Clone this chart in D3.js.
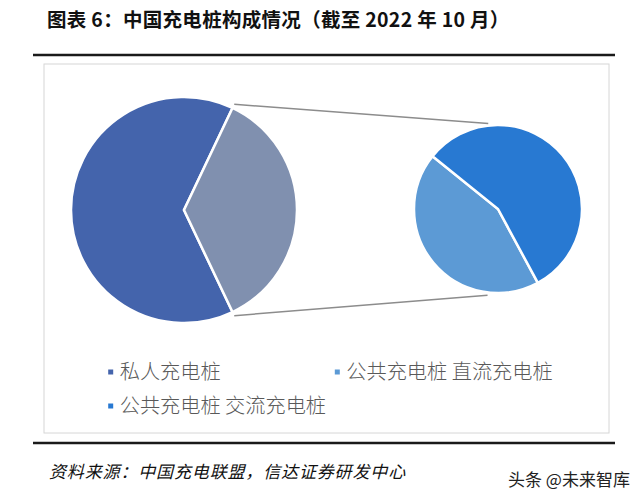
<!DOCTYPE html>
<html><head><meta charset="utf-8">
<script src="https://cdn.jsdelivr.net/npm/d3@7"></script>
<style>body{margin:0;background:#fff;}svg{display:block;}</style>
</head><body>
<svg id="c" width="640" height="500"></svg>
<script>
// Data (万台), 截至2022年10月
const mainCategories = ["私人充电桩", "公共充电桩"];
const mainValues = [303.0, 169.5];
const subCategories = ["公共充电桩 直流充电桩", "公共充电桩 交流充电桩"];
const subValues = [74.0, 95.5];
const legendLabels = ["私人充电桩", "公共充电桩 直流充电桩", "公共充电桩 交流充电桩"];
const titleText = "图表 6：中国充电桩构成情况（截至 2022 年 10 月）";
const sourceText = "资料来源：中国充电联盟，信达证券研发中心";
const watermarkText = "头条 @未来智库";

const colors = {
  "私人充电桩": "#4464AC",
  "公共充电桩": "#8090AF",
  "公共充电桩 直流充电桩": "#5C9AD5",
  "公共充电桩 交流充电桩": "#2879D2"
};

const svg = d3.select("#c");
const fontCJK = "'Noto Sans CJK SC','Noto Sans',sans-serif";

// Title
svg.append("text").attr("x", 47).attr("y", 27)
  .attr("font-family", fontCJK).attr("font-weight", 700).attr("font-size", 19.5)
  .attr("letter-spacing", 0.3)
  .attr("fill", "#111").text(titleText);

// rule lines
svg.append("line").attr("x1", 33).attr("x2", 615).attr("y1", 55).attr("y2", 55)
  .attr("stroke", "#1a1a1a").attr("stroke-width", 2.5);
svg.append("line").attr("x1", 33).attr("x2", 615).attr("y1", 443).attr("y2", 443)
  .attr("stroke", "#1a1a1a").attr("stroke-width", 2.5);
// chart area box
svg.append("rect").attr("x", 44).attr("y", 64).attr("width", 565).attr("height", 369)
  .attr("fill", "none").attr("stroke", "#d6d6d6").attr("stroke-width", 1);

// Main pie
const c1 = {x: 184, y: 210}, r1 = 113;
const total1 = d3.sum(mainValues);
const pubSpan = 2 * Math.PI * mainValues[1] / total1;
const start1 = Math.PI / 2 + pubSpan / 2;
const pie1 = d3.pie().sort(null).startAngle(start1).endAngle(start1 + 2 * Math.PI);
const arcs1 = pie1(mainValues);
const arc1 = d3.arc().innerRadius(0).outerRadius(r1);
const g1 = svg.append("g").attr("transform", `translate(${c1.x},${c1.y})`);
g1.selectAll("path").data(arcs1).join("path")
  .attr("d", arc1)
  .attr("fill", (d, i) => colors[mainCategories[i]])
  .attr("stroke", "#fff").attr("stroke-width", 2.5).attr("stroke-linejoin", "miter");

// Sub pie
const c2 = {x: 498, y: 209}, r2 = 84;
const total2 = d3.sum(subValues);
const dcSpan = 2 * Math.PI * subValues[0] / total2;
const mid2 = 230.25 * Math.PI / 180;
const start2 = mid2 - dcSpan / 2;
const pie2 = d3.pie().sort(null).startAngle(start2).endAngle(start2 + 2 * Math.PI);
const arcs2 = pie2(subValues);
const arc2 = d3.arc().innerRadius(0).outerRadius(r2);
const g2 = svg.append("g").attr("transform", `translate(${c2.x},${c2.y})`);
g2.selectAll("path").data(arcs2).join("path")
  .attr("d", arc2)
  .attr("fill", (d, i) => colors[subCategories[i]])
  .attr("stroke", "#fff").attr("stroke-width", 2.5);

// connector lines
const pubArc = arcs1[1];
const pt = (c, r, a) => [c.x + r * Math.sin(a), c.y - r * Math.cos(a)];
const aTop = pubArc.startAngle - 2 * Math.PI * Math.floor(pubArc.startAngle / (2 * Math.PI));
const aBot = pubArc.endAngle - 2 * Math.PI * Math.floor(pubArc.endAngle / (2 * Math.PI));
const connectors = [
  [pt(c1, r1 + 4, aTop), pt(c2, r2 + 2, -6.5 * Math.PI / 180)],
  [pt(c1, r1 + 4, aBot), pt(c2, r2 + 3, 186.9 * Math.PI / 180)]
];
svg.selectAll("line.conn").data(connectors).join("line").attr("class", "conn")
  .attr("x1", d => d[0][0]).attr("y1", d => d[0][1])
  .attr("x2", d => d[1][0]).attr("y2", d => d[1][1])
  .attr("stroke", "#8c8c8c").attr("stroke-width", 1.5);

// Legend
const legendPos = [[110.7, 372], [337.3, 372], [110.7, 406]];
const lg = svg.append("g");
legendLabels.forEach((lab, i) => {
  const [x, y] = legendPos[i];
  lg.append("rect").attr("x", x - 2.5).attr("y", y - 2.5).attr("width", 5).attr("height", 5)
    .attr("fill", colors[lab]);
  lg.append("text").attr("x", x + 9).attr("y", y).attr("dy", "0.36em")
    .attr("font-family", fontCJK).attr("font-size", 20.2).attr("font-weight", 300)
    .attr("fill", "#595959").text(lab);
});

// Source
svg.append("text").attr("x", 49).attr("y", 478)
  .attr("font-family", fontCJK).attr("font-size", 17).attr("font-style", "italic")
  .attr("letter-spacing", 0.85)
  .attr("fill", "#111").text(sourceText);

// Watermark
svg.append("text").attr("x", 508).attr("y", 486)
  .attr("font-family", fontCJK).attr("font-size", 17)
  .attr("fill", "#222").text(watermarkText);
</script>
</body></html>
